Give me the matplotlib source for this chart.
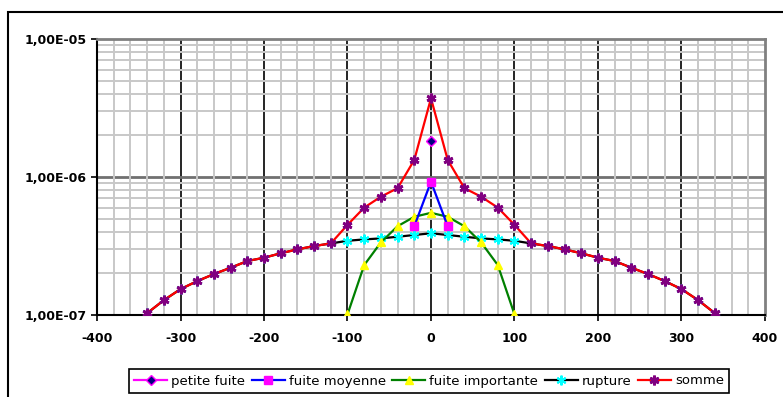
import numpy as np
import matplotlib
matplotlib.use("Agg")
import matplotlib.pyplot as plt
from matplotlib.patches import Rectangle
from matplotlib.ticker import FixedLocator, NullFormatter

# valeurs (x en m, y en /an)
x_large = [-360, -340, -320, -300, -280, -260, -240, -220, -200, -180, -160, -140, -120,
           -100, -80, -60, -40, -20, 0, 20, 40, 60, 80, 100,
           120, 140, 160, 180, 200, 220, 240, 260, 280, 300, 320, 340, 360]
somme = [0.80e-7, 1.03e-7, 1.28e-7, 1.54e-7, 1.76e-7, 1.98e-7, 2.20e-7, 2.46e-7, 2.60e-7,
         2.80e-7, 2.99e-7, 3.16e-7, 3.30e-7,
         4.5e-7, 6.0e-7, 7.2e-7, 8.3e-7, 1.33e-6, 3.72e-6, 1.33e-6, 8.3e-7, 7.2e-7, 6.0e-7, 4.5e-7,
         3.30e-7, 3.16e-7, 2.99e-7, 2.80e-7, 2.60e-7, 2.46e-7, 2.20e-7, 1.98e-7, 1.76e-7,
         1.54e-7, 1.28e-7, 1.03e-7, 0.80e-7]
rupture = [0.80e-7, 1.03e-7, 1.28e-7, 1.54e-7, 1.76e-7, 1.98e-7, 2.20e-7, 2.46e-7, 2.60e-7,
           2.80e-7, 2.99e-7, 3.16e-7, 3.30e-7,
           3.45e-7, 3.53e-7, 3.59e-7, 3.69e-7, 3.80e-7, 3.91e-7, 3.80e-7, 3.69e-7, 3.59e-7, 3.53e-7, 3.45e-7,
           3.30e-7, 3.16e-7, 2.99e-7, 2.80e-7, 2.60e-7, 2.46e-7, 2.20e-7, 1.98e-7, 1.76e-7,
           1.54e-7, 1.28e-7, 1.03e-7, 0.80e-7]
x_imp = [-100, -80, -60, -40, -20, 0, 20, 40, 60, 80, 100]
fuite_importante = [1.01e-7, 2.3e-7, 3.36e-7, 4.4e-7, 5.15e-7, 5.5e-7, 5.15e-7, 4.4e-7, 3.36e-7, 2.3e-7, 1.01e-7]
x_moy = [-20, 0, 20]
fuite_moyenne = [4.4e-7, 9.25e-7, 4.4e-7]
x_pet = [0]
petite_fuite = [1.83e-6]

xticks = [-400, -300, -200, -100, 0, 100, 200, 300, 400]
yticks = [1e-7, 1e-6, 1e-5]
ylabels = ["1,00E-07", "1,00E-06", "1,00E-05"]

fig = plt.figure(figsize=(7.83, 3.97), dpi=100)
ax = fig.add_axes([97/783, 1-315/397, (765-97)/783, (315-39)/397])

# cadre exterieur
fig.patches.append(Rectangle((8/783, -0.2), 1.2, 0.2 + 1-12/397, transform=fig.transFigure,
                             fill=False, edgecolor="black", lw=1.5))

ax.set_yscale("log")
ax.set_xlim(-400, 400)
ax.set_ylim(1e-7, 1e-5)

# grille
ax.xaxis.set_minor_locator(FixedLocator(np.arange(-380, 400, 20)))
ax.grid(True, which="minor", axis="both", color="#c8c8c8", lw=1.4, zorder=0)
for xv in xticks[1:-1]:
    ax.axvline(xv, color="black", lw=1.2, zorder=1)
ax.axhline(1e-6, color="#707070", lw=2, zorder=1)

ax.plot(x_large, rupture, color="black", lw=1.6, marker=(6, 2, 0), ms=7,
        mec="#00ffff", mfc="#00ffff", mew=1.5, label="rupture", zorder=3)
ax.plot(x_imp, fuite_importante, color="#008000", lw=1.6, marker="^", ms=6,
        mec="#ffff00", mfc="#ffff00", label="fuite importante", zorder=4)
ax.plot(x_moy, fuite_moyenne, color="#0000ff", lw=1.6, marker="s", ms=6,
        mec="#ff00ff", mfc="#ff00ff", label="fuite moyenne", zorder=4)
ax.plot(x_pet, petite_fuite, color="#ff00ff", lw=1.6, marker="D", ms=5,
        mec="#ff00ff", mfc="#000080", label="petite fuite", zorder=5)
ax.plot(x_large, somme, color="#ff0000", lw=1.6, marker=(6, 2, 0), ms=7,
        mec="#800080", mfc="#800080", mew=2, label="somme", zorder=5)

ax.set_xticks(xticks)
ax.set_xticklabels([str(v) for v in xticks], fontweight="bold", fontsize=9)
ax.set_yticks(yticks)
ax.set_yticklabels(ylabels, fontweight="bold", fontsize=9)
ax.yaxis.set_minor_formatter(NullFormatter())
ax.tick_params(which="minor", length=0)
ax.tick_params(which="major", length=4, width=1.2, color="black")
ax.tick_params(axis="x", pad=8)

for s in ["top", "right"]:
    ax.spines[s].set_color("#808080")
    ax.spines[s].set_linewidth(2)
ax.spines["left"].set_linewidth(1.5)
ax.spines["bottom"].set_linewidth(1.5)

h, l = ax.get_legend_handles_labels()
order = [3, 2, 1, 0, 4]
leg = fig.legend([h[i] for i in order], [l[i] for i in order], ncol=5,
                 loc="center", bbox_to_anchor=(429/783, 1-381/397), fontsize=9.5,
                 frameon=True, fancybox=False, edgecolor="black", framealpha=1,
                 handlelength=2.5, handletextpad=0.3, columnspacing=0.5,
                 borderpad=0.4, borderaxespad=0)
leg.get_frame().set_linewidth(1.2)

fig.savefig("out.png", dpi=100)
